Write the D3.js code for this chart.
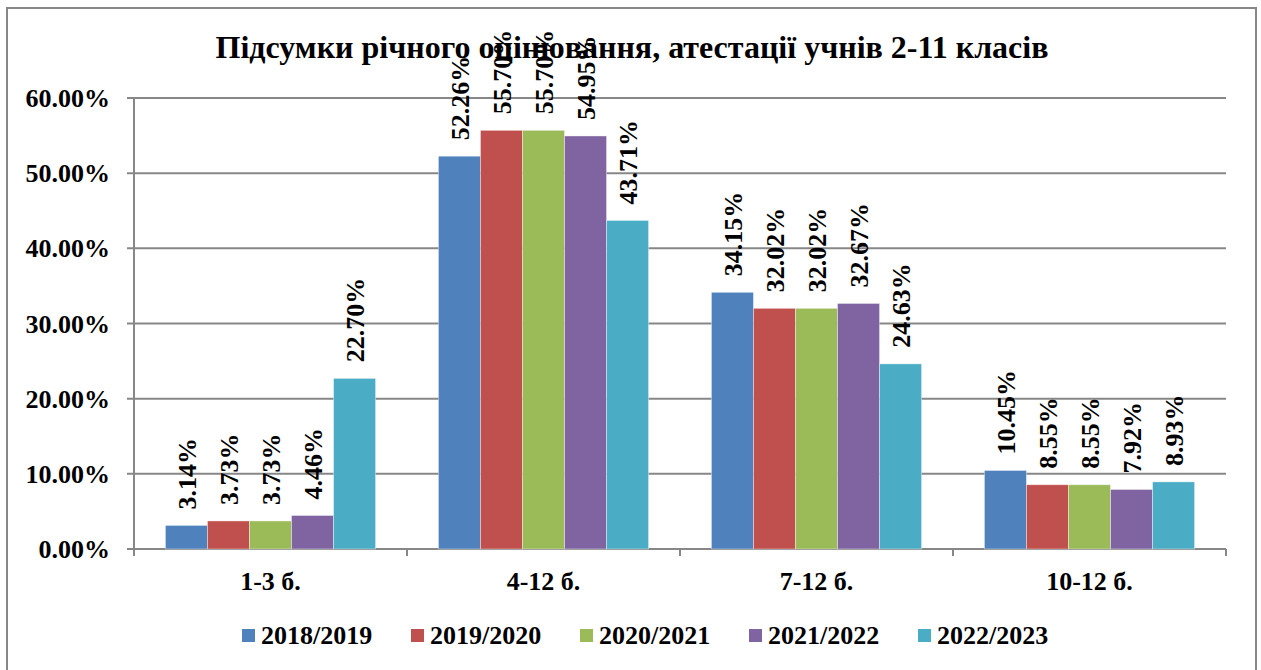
<!DOCTYPE html>
<html>
<head>
<meta charset="utf-8">
<script src="https://cdn.jsdelivr.net/npm/d3@7"></script>
<style>
  body { margin: 0; background: #fff; }
</style>
</head>
<body>
<svg width="1261" height="670"></svg>
<script>
var categories = ["1-3 б.", "4-12 б.", "7-12 б.", "10-12 б."];
var seriesNames = ["2018/2019", "2019/2020", "2020/2021", "2021/2022", "2022/2023"];
var colors = ["#4F81BD", "#C0504D", "#9BBB59", "#8064A2", "#4BACC6"];
// values per series, in category order
var s2018 = [0.0314, 0.5226, 0.3415, 0.1045];
var s2019 = [0.0373, 0.5570, 0.3202, 0.0855];
var s2020 = [0.0373, 0.5570, 0.3202, 0.0855];
var s2021 = [0.0446, 0.5495, 0.3267, 0.0792];
var s2022 = [0.2270, 0.4371, 0.2463, 0.0893];
var yTicks = [0, 0.1, 0.2, 0.3, 0.4, 0.5, 0.6];

var seriesValues = [s2018, s2019, s2020, s2021, s2022];

var svg = d3.select("svg"),
  width = +svg.attr("width"),
  height = +svg.attr("height");

var margin = {left: 134, right: 35, top: 98, bottom: 121};
var gridColor = "#878787";

function label(sel, size) {
  return sel.style("font-family", "Liberation Serif")
    .style("font-weight", "bold")
    .style("font-size", size + "px")
    .attr("fill", "#000");
}

// outer frame
svg.append("rect")
  .attr("x", 7).attr("y", 8)
  .attr("width", 1249).attr("height", 700)
  .attr("fill", "none")
  .attr("stroke", gridColor)
  .attr("stroke-width", 2);

svg.append("text")
  .attr("x", 632).attr("y", 58)
  .attr("text-anchor", "middle")
  .call(label, 32)
  .text("Підсумки річного оцінювання, атестації учнів 2-11 класів");

var y = d3.scaleLinear()
  .domain([0, 0.6])
  .range([height - margin.bottom, margin.top]);

var x0 = d3.scaleBand()
  .domain(categories)
  .range([margin.left, width - margin.right]);

var gap = x0.bandwidth() * 0.115;
var x1 = d3.scaleBand()
  .domain(seriesNames)
  .range([gap, x0.bandwidth() - gap]);

var fmt = d3.format(".2%");

// grid lines
svg.append("g")
  .selectAll("line")
  .data(yTicks)
  .enter().append("line")
  .attr("x1", margin.left - 7)
  .attr("x2", width - margin.right)
  .attr("y1", function(d) { return y(d); })
  .attr("y2", function(d) { return y(d); })
  .attr("stroke", gridColor)
  .attr("stroke-width", 2);

// y axis line + labels
svg.append("line")
  .attr("x1", margin.left).attr("x2", margin.left)
  .attr("y1", y(0.6)).attr("y2", y(0))
  .attr("stroke", gridColor).attr("stroke-width", 2);

svg.append("g")
  .selectAll("text")
  .data(yTicks)
  .enter().append("text")
  .attr("x", 110)
  .attr("y", function(d) { return y(d); })
  .attr("dy", "0.35em")
  .attr("text-anchor", "end")
  .call(label, 26)
  .text(function(d) { return fmt(d); });

// x ticks at category boundaries
var bounds = categories.map(function(c) { return x0(c); }).concat([x0.range()[1]]);
svg.append("g")
  .selectAll("line")
  .data(bounds)
  .enter().append("line")
  .attr("x1", function(d) { return d; })
  .attr("x2", function(d) { return d; })
  .attr("y1", y(0))
  .attr("y2", y(0) + 7)
  .attr("stroke", gridColor).attr("stroke-width", 2);

svg.append("g")
  .selectAll("text")
  .data(categories)
  .enter().append("text")
  .attr("x", function(d) { return x0(d) + x0.bandwidth() / 2; })
  .attr("y", 590)
  .attr("text-anchor", "middle")
  .call(label, 26)
  .text(function(d) { return d; });

// bars
var groups = svg.append("g")
  .selectAll("g")
  .data(categories)
  .enter().append("g")
  .attr("transform", function(d) { return "translate(" + x0(d) + ",0)"; });

var cells = groups.selectAll("g")
  .data(function(c, ci) {
    return seriesNames.map(function(s, si) {
      return {series: s, idx: si, value: seriesValues[si][ci]};
    });
  })
  .enter().append("g");

cells.append("rect")
  .attr("x", function(d) { return x1(d.series); })
  .attr("y", function(d) { return y(d.value); })
  .attr("width", x1.bandwidth())
  .attr("height", function(d) { return y(0) - y(d.value); })
  .attr("fill", function(d) { return colors[d.idx]; })
  .attr("stroke", "rgba(255,255,255,0.5)")
  .attr("stroke-width", 0.8);

cells.append("text")
  .attr("transform", function(d) {
    return "translate(" + (x1(d.series) + x1.bandwidth() / 2) + "," + (y(d.value) - 16) + ") rotate(-90)";
  })
  .attr("dy", "0.35em")
  .attr("text-anchor", "start")
  .call(label, 26)
  .text(function(d) { return fmt(d.value); });

// legend
var legend = svg.append("g")
  .attr("transform", "translate(242,629)");

var item = legend.selectAll("g")
  .data(seriesNames)
  .enter().append("g")
  .attr("transform", function(d, i) { return "translate(" + (i * 169) + ",0)"; });

item.append("rect")
  .attr("width", 13).attr("height", 13)
  .attr("fill", function(d, i) { return colors[i]; });

item.append("text")
  .attr("x", 19)
  .attr("y", 15)
  .call(label, 26)
  .text(function(d) { return d; });
</script>
</body>
</html>
